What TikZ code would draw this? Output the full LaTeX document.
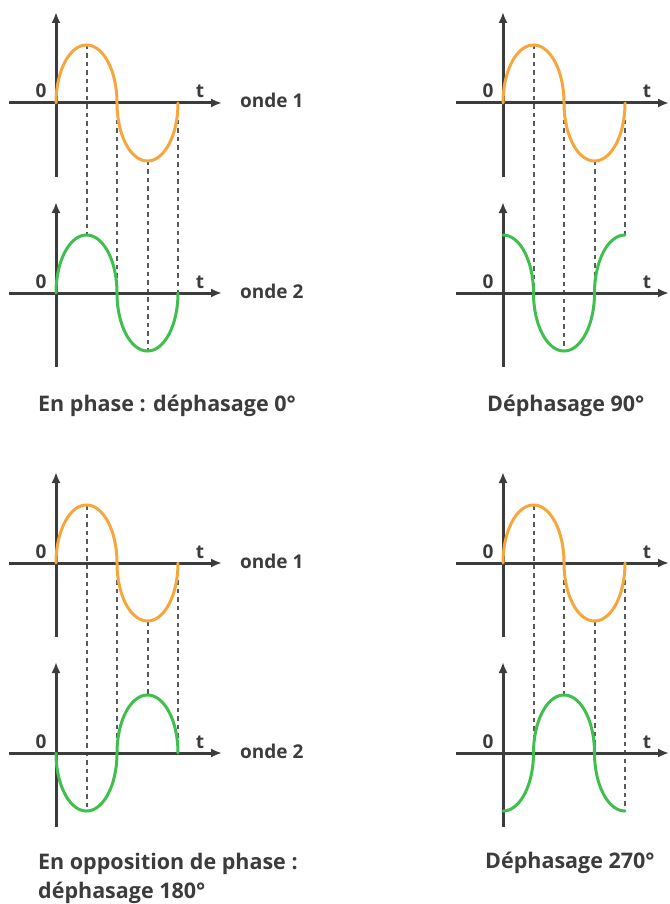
\documentclass[tikz,border=0pt]{standalone}
\usepackage{fontspec}
\setmainfont{Open Sans}
\usepackage{xcolor}
\usetikzlibrary{arrows.meta}
\definecolor{axisgray}{HTML}{3C3C3C}
\definecolor{guidegray}{HTML}{5A5A5A}
\definecolor{wavefirst}{HTML}{F7A63C}
\definecolor{wavesecond}{HTML}{3FBF4E}
\tikzset{
  axis/.style={draw=axisgray,line width=3pt,-{Latex[length=11pt,width=9pt]}},
  guide/.style={draw=guidegray,line width=2pt,dash pattern=on 4.5pt off 4pt},
  wave/.style={line width=3pt,line join=round,line cap=round},
  lbl/.style={text=axisgray,font=\bfseries\fontsize{19}{22}\selectfont,inner sep=0pt},
  caption/.style={text=axisgray,font=\bfseries\fontsize{21.5}{29}\selectfont,inner sep=0pt,align=left},
}

\begin{document}
\begin{tikzpicture}[x=1pt,y=-1pt]
  \useasboundingbox (0,0) rectangle (669,904);
  % one panel per phase shift: origin x, origin y, phase
  \foreach \px/\py/\ph/\nm in {56/103/0/a, 503/103/90/b, 56/563/180/c, 503/563/270/d} {
    % dashed guides from wave 1 down to wave 2
    \foreach \k in {1,...,4}
      \draw[guide] ({\px+\k*30.5},{\py-58*sin(\k*90)}) -- ({\px+\k*30.5},{\py+190-58*sin(\k*90+\ph)});
    % axes
    \foreach \dy in {0,190} {
      \draw[axis] (\px-47,\py+\dy) -- (\px+166,\py+\dy);
      \draw[axis] (\px,\py+\dy+74) -- (\px,\py+\dy-91);
      \node[lbl,anchor=base] (zero\nm\dy) at (\px-15,\py+\dy-5) {0};
      \node[lbl,anchor=base] (t\nm\dy) at (\px+144,\py+\dy-5) {t};
    }
    % waves: chained half ellipses over one period, shifted by the phase
    \foreach \dy/\sh/\col in {0/0/wavefirst, 190/\ph/wavesecond}
      \draw[wave,\col] plot[domain=\sh:\sh+360,samples=145,variable=\s]
        ({\px+(180*floor(\s/180)+90*(1-cos(mod(\s,180)))-\sh)/360*122},{\py+\dy-58*sin(\s)});
  }
  \node[lbl,anchor=base west] (onde1) at (240,108) {onde 1};
  \node[lbl,anchor=base west] (onde2) at (240,298) {onde 2};
  \node[lbl,anchor=base west] (onde3) at (240,568) {onde 1};
  \node[lbl,anchor=base west] (onde4) at (240,758) {onde 2};
  \node[caption,anchor=base west] (capa) at (38,411) {En phase : déphasage 0°};
  \node[caption,anchor=base west] (capb) at (487,411) {Déphasage 90°};
  \node[caption,anchor=base west] (capc) at (38,898) {En opposition de phase :\\déphasage 180°};
  \node[caption,anchor=base west] (capd) at (485,868) {Déphasage 270°};
\end{tikzpicture}
\end{document}
